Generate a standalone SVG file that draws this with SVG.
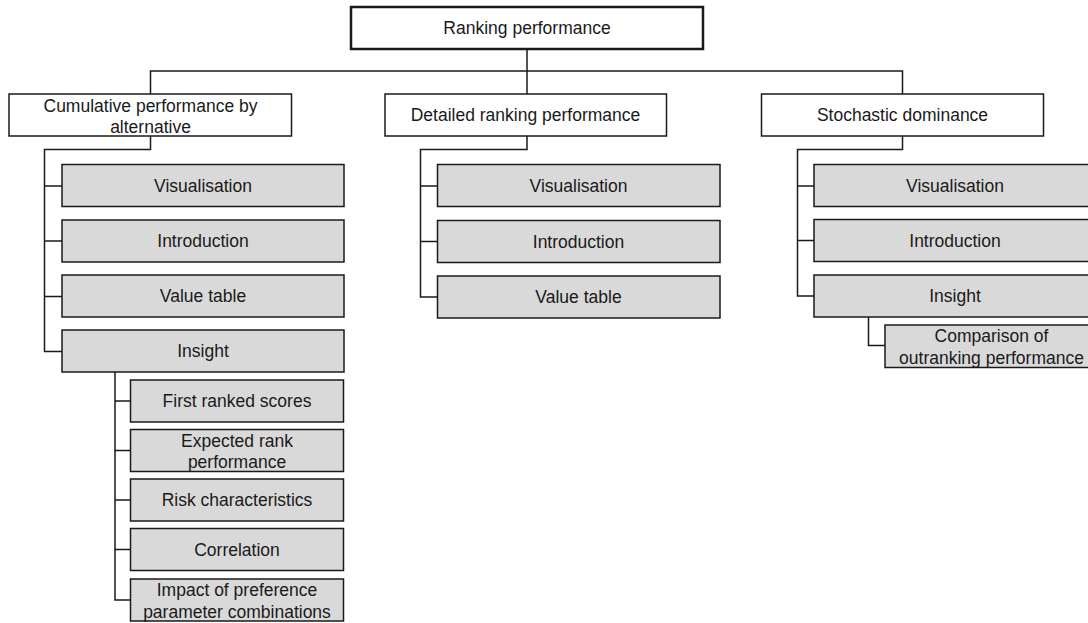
<svg xmlns="http://www.w3.org/2000/svg" width="1088" height="623" viewBox="0 0 1088 623">
<style>
.box{fill:#ffffff;stroke:#1a1a1a;stroke-width:1.5}
.root{fill:#ffffff;stroke:#1a1a1a;stroke-width:2.5}
.leaf{fill:#d9d9d9;stroke:#1a1a1a;stroke-width:1.5}
.t{font-family:"Liberation Sans",Arial,Helvetica,sans-serif;font-size:17.5px;fill:#1a1a1a;text-anchor:middle}
.c{fill:none;stroke:#1a1a1a;stroke-width:1.5}
</style>
<g id="connectors">
<path class="c" d="M527 49V94"/>
<path class="c" d="M150.5 94V71H902.5V94"/>
<path class="c" d="M150.5 136V149.5H44.5V351.5H62"/>
<path class="c" d="M44.5 186H62M44.5 241H62M44.5 296.5H62"/>
<path class="c" d="M527 136V149.5H420.5V297H437.5"/>
<path class="c" d="M420.5 186H437.5M420.5 241.5H437.5"/>
<path class="c" d="M902.5 136V149.5H797.5V296H814"/>
<path class="c" d="M797.5 186H814M797.5 240.5H814"/>
<path class="c" d="M115 372V600H130.5"/>
<path class="c" d="M115 401H130.5M115 450.5H130.5M115 500H130.5M115 549.5H130.5"/>
<path class="c" d="M868.5 317V345.5H885"/>
</g>
<g id="n-root"><rect class="root" x="351" y="7" width="352" height="42"/><text class="t" x="527" y="34">Ranking performance</text></g>
<g id="n-cumulative"><rect class="box" x="9" y="94" width="282.5" height="42"/><text class="t" x="150.5" y="112">Cumulative performance by</text><text class="t" x="150.5" y="133">alternative</text></g>
<g id="n-detailed"><rect class="box" x="385" y="94" width="281.5" height="42"/><text class="t" x="525.5" y="121">Detailed ranking performance</text></g>
<g id="n-stochastic"><rect class="box" x="761.5" y="94" width="282" height="42"/><text class="t" x="902.5" y="121">Stochastic dominance</text></g>

<g id="n-c-vis"><rect class="leaf" x="62" y="164.5" width="282" height="42"/><text class="t" x="203" y="191.5">Visualisation</text></g>
<g id="n-c-intro"><rect class="leaf" x="62" y="220" width="282" height="42"/><text class="t" x="203" y="247">Introduction</text></g>
<g id="n-c-value"><rect class="leaf" x="62" y="275" width="282" height="42"/><text class="t" x="203" y="302">Value table</text></g>
<g id="n-c-insight"><rect class="leaf" x="62" y="330" width="282" height="42"/><text class="t" x="203" y="357">Insight</text></g>

<g id="n-c-first"><rect class="leaf" x="130.5" y="380" width="213" height="42"/><text class="t" x="237" y="407">First ranked scores</text></g>
<g id="n-c-expected"><rect class="leaf" x="130.5" y="429.5" width="213" height="42"/><text class="t" x="237" y="446.5">Expected rank</text><text class="t" x="237" y="468">performance</text></g>
<g id="n-c-risk"><rect class="leaf" x="130.5" y="479" width="213" height="42"/><text class="t" x="237" y="506">Risk characteristics</text></g>
<g id="n-c-corr"><rect class="leaf" x="130.5" y="528.5" width="213" height="42"/><text class="t" x="237" y="555.5">Correlation</text></g>
<g id="n-c-impact"><rect class="leaf" x="130.5" y="579" width="213" height="42"/><text class="t" x="237" y="596">Impact of preference</text><text class="t" x="237" y="617.5">parameter combinations</text></g>

<g id="n-d-vis"><rect class="leaf" x="437.5" y="164.5" width="282.5" height="42"/><text class="t" x="578.5" y="191.5">Visualisation</text></g>
<g id="n-d-intro"><rect class="leaf" x="437.5" y="220.5" width="282.5" height="42"/><text class="t" x="578.5" y="247.5">Introduction</text></g>
<g id="n-d-value"><rect class="leaf" x="437.5" y="276" width="282.5" height="42"/><text class="t" x="578.5" y="303">Value table</text></g>

<g id="n-s-vis"><rect class="leaf" x="814" y="164.5" width="282" height="42"/><text class="t" x="955" y="191.5">Visualisation</text></g>
<g id="n-s-intro"><rect class="leaf" x="814" y="219.5" width="282" height="42"/><text class="t" x="955" y="246.5">Introduction</text></g>
<g id="n-s-insight"><rect class="leaf" x="814" y="275" width="282" height="42"/><text class="t" x="955" y="302">Insight</text></g>
<g id="n-s-comparison"><rect class="leaf" x="885" y="325" width="213" height="42.5"/><text class="t" x="991.5" y="342">Comparison of</text><text class="t" x="991.5" y="363.5">outranking performance</text></g>
</svg>
